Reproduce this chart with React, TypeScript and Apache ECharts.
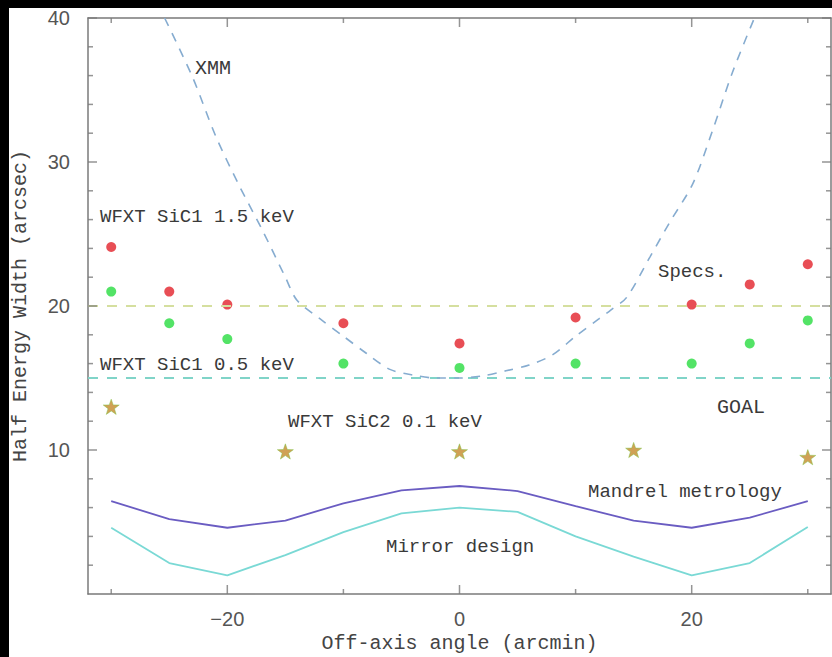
import React, { useEffect, useRef } from "react";
import * as echarts from "echarts";

// ---- data ----
const offAxis = [-30, -25, -20, -10, 0, 10, 20, 25, 30];
const sic1Hard = [24.1, 21.0, 20.1, 18.8, 17.4, 19.2, 20.1, 21.5, 22.9]; // WFXT SiC1 1.5 keV
const sic1Soft = [21.0, 18.8, 17.7, 16.0, 15.7, 16.0, 16.0, 17.4, 19.0]; // WFXT SiC1 0.5 keV
const sic2Angles = [-30, -15, 0, 15, 30];
const sic2Soft = [13.0, 9.9, 9.9, 10.0, 9.5]; // WFXT SiC2 0.1 keV
const curveAngles = [-30, -25, -20, -15, -10, -5, 0, 5, 10, 15, 20, 25, 30];
const mandrel = [6.45, 5.2, 4.6, 5.1, 6.3, 7.2, 7.5, 7.15, 6.1, 5.1, 4.6, 5.3, 6.45];
const mirror = [4.6, 2.15, 1.3, 2.7, 4.3, 5.6, 6.0, 5.7, 4.0, 2.6, 1.3, 2.15, 4.65];
const xmmAngles = [-25.4, -23, -21, -19, -17, -15, -14, -12, -10, -8, -6, -4, -2, 0, 2, 4, 6, 8, 10, 12, 13, 14.4, 16.4, 18.1, 20.1, 21.8, 23.5, 25.4];
const xmmHew = [40, 35.9, 31.8, 28.4, 25.3, 22.0, 20.4, 19.1, 17.9, 16.7, 15.6, 15.2, 15.0, 15.0, 15.15, 15.5, 15.9, 16.6, 17.9, 19.1, 19.7, 20.6, 23.4, 25.8, 28.5, 32.2, 36.2, 40];
const specsLevel = 20;
const goalLevel = 15;
const xRange = [-32, 32];
const yRange = [0, 40];
const xMajor = [-20, 0, 20];
const xMinor = [-30, -10, 10, 30];
const yMajor = [10, 20, 30, 40];
const yMinor = [2, 4, 6, 8, 12, 14, 16, 18, 22, 24, 26, 28, 32, 34, 36, 38];

const MONO = "'Liberation Mono', 'DejaVu Sans Mono', monospace";
const SANS = "'Liberation Sans', Arial, sans-serif";
const STAR =
  "path://M0,-10 L2.35,-3.24 L9.51,-3.09 L3.8,1.24 L5.88,8.09 L0,4 L-5.88,8.09 L-3.8,1.24 L-9.51,-3.09 L-2.35,-3.24 Z";

const AXIS_COLOR = "#7a7a7a";
const lineStyle = { color: AXIS_COLOR, width: 1.5 };

function baseAxis(position: string, range: number[], extra: any = {}) {
  return {
    type: "value",
    position,
    min: range[0],
    max: range[1],
    axisLine: { show: true, onZero: false, lineStyle },
    axisTick: { show: false },
    axisLabel: { show: false },
    splitLine: { show: false },
    ...extra,
  };
}

function tickSeries(data: number[][], size: number[], offset: number[]) {
  return {
    type: "scatter",
    data,
    symbol: "rect",
    symbolSize: size,
    symbolOffset: offset,
    clip: false,
    silent: true,
    z: 5,
    itemStyle: { color: AXIS_COLOR },
    tooltip: { show: false },
  };
}

function label(text: string, x: number, y: number, size = 19) {
  return {
    type: "text",
    x,
    y,
    z: 100,
    style: { text, fontSize: size, fontFamily: MONO, fill: "#3a3a3a", align: "left", verticalAlign: "middle" },
  };
}

export default function App() {
  const ref = useRef<HTMLDivElement>(null);
  useEffect(() => {
    if (!ref.current) return;
    const chart = echarts.init(ref.current, null, { renderer: "svg" });
    const MAJ = 9;
    const MIN = 5;
    chart.setOption({
      animation: false,
      backgroundColor: "#ffffff",
      grid: { left: 79, top: 10, right: 1, bottom: 63, containLabel: false, outerBoundsMode: "none" },
      xAxis: [
        baseAxis("bottom", xRange, {
          axisLabel: {
            show: true,
            customValues: xMajor,
            margin: 15,
            fontSize: 20,
            fontFamily: SANS,
            color: "#555",
            formatter: (v: number) => (v < 0 ? "\u2212" + Math.abs(v) : String(v)),
          },
          name: "Off-axis angle (arcmin)",
          nameLocation: "middle",
          nameGap: 39,
          nameTextStyle: { fontSize: 20, fontFamily: MONO, color: "#444", lineHeight: 20 },
        }),
        baseAxis("top", xRange),
      ],
      yAxis: [
        baseAxis("left", yRange, {
          axisLabel: { show: true, customValues: yMajor, margin: 18, fontSize: 20, fontFamily: SANS, color: "#555" },
          name: "Half Energy Width (arcsec)",
          nameLocation: "middle",
          nameGap: 58,
          nameRotate: 90,
          nameTextStyle: { fontSize: 20, fontFamily: MONO, color: "#444" },
        }),
        baseAxis("right", yRange),
      ],
      series: [
        {
          type: "line",
          name: "Specs",
          data: [[xRange[0], specsLevel], [xRange[1], specsLevel]],
          symbol: "none",
          lineStyle: { color: "#d5df9f", width: 2, type: [10, 9] },
        },
        {
          type: "line",
          name: "GOAL",
          data: [[xRange[0], goalLevel], [xRange[1], goalLevel]],
          symbol: "none",
          lineStyle: { color: "#80d4c8", width: 2, type: [10, 9] },
        },
        {
          type: "line",
          name: "XMM",
          data: xmmAngles.map((x, i) => [x, xmmHew[i]]),
          symbol: "none",
          smooth: 0.3,
          clip: true,
          lineStyle: { color: "#86acd0", width: 1.6, type: [9, 8] },
        },
        {
          type: "line",
          name: "Mandrel metrology",
          data: curveAngles.map((x, i) => [x, mandrel[i]]),
          symbol: "none",
          lineStyle: { color: "#6a5cc2", width: 1.8 },
        },
        {
          type: "line",
          name: "Mirror design",
          data: curveAngles.map((x, i) => [x, mirror[i]]),
          symbol: "none",
          lineStyle: { color: "#7ad9d5", width: 1.8 },
        },
        {
          type: "scatter",
          name: "WFXT SiC1 1.5 keV",
          data: offAxis.map((x, i) => [x, sic1Hard[i]]),
          symbol: "circle",
          symbolSize: 10,
          itemStyle: { color: "#e2222a" },
        },
        {
          type: "scatter",
          name: "WFXT SiC1 0.5 keV",
          data: offAxis.map((x, i) => [x, sic1Soft[i]]),
          symbol: "circle",
          symbolSize: 10,
          itemStyle: { color: "#28dc40" },
        },
        {
          type: "scatter",
          name: "WFXT SiC2 0.1 keV",
          data: sic2Angles.map((x, i) => [x, sic2Soft[i]]),
          symbol: STAR,
          symbolKeepAspect: true,
          symbolSize: 16,
          itemStyle: { color: "#c4892a", borderColor: "#7fc242", borderWidth: 0.6 },
        },
        // axis ticks (inward), placed at axis values
        tickSeries(xMajor.map((x) => [x, yRange[0]]), [1.5, MAJ], [0, -MAJ / 2]),
        tickSeries(xMinor.map((x) => [x, yRange[0]]), [1.5, MIN], [0, -MIN / 2]),
        tickSeries(xMajor.map((x) => [x, yRange[1]]), [1.5, MAJ], [0, MAJ / 2]),
        tickSeries(xMinor.map((x) => [x, yRange[1]]), [1.5, MIN], [0, MIN / 2]),
        tickSeries(yMajor.map((y) => [xRange[0], y]), [MAJ, 1.5], [MAJ / 2, 0]),
        tickSeries(yMinor.map((y) => [xRange[0], y]), [MIN, 1.5], [MIN / 2, 0]),
        tickSeries(yMajor.map((y) => [xRange[1], y]), [MAJ, 1.5], [-MAJ / 2, 0]),
        tickSeries(yMinor.map((y) => [xRange[1], y]), [MIN, 1.5], [-MIN / 2, 0]),
      ],
      graphic: [
        label("XMM", 186, 60, 20),
        label("WFXT SiC1 1.5 keV", 91, 209),
        label("WFXT SiC1 0.5 keV", 91, 357),
        label("WFXT SiC2 0.1 keV", 279, 414),
        label("Specs.", 649, 264),
        label("GOAL", 708, 399, 20),
        label("Mandrel metrology", 579, 484),
        label("Mirror design", 377, 539),
      ],
    });
    return () => chart.dispose();
  }, []);

  return (
    <div style={{ position: "fixed", left: 0, top: 0, width: 832, height: 657, background: "#000", overflow: "hidden" }}>
      <div
        ref={ref}
        style={{ position: "absolute", left: 9, top: 8, width: 823, height: 649, background: "#fff" }}
      />
    </div>
  );
}
